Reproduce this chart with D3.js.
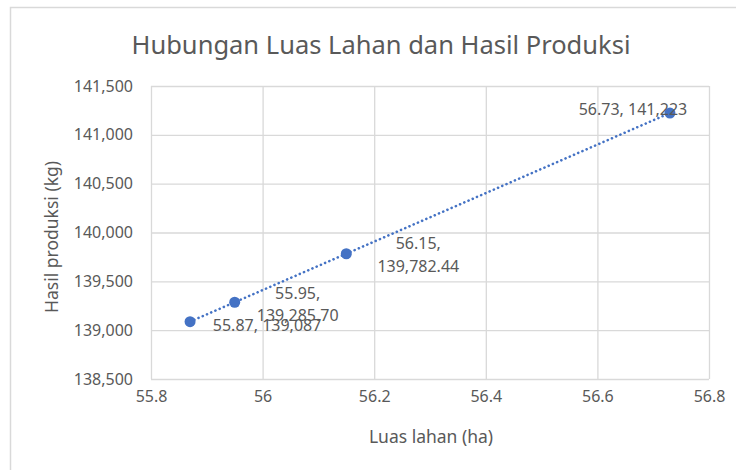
<!DOCTYPE html>
<html>
<head>
<meta charset="utf-8">
<script src="https://d3js.org/d3.v7.min.js"></script>
<style>
  body { margin: 0; background: #fff; }
  text { font-family: "Noto Sans", "Open Sans", sans-serif; fill: #595959; }
</style>
</head>
<body>
<div id="chart"></div>
<script>
// Data
const luasLahan = [55.87, 55.95, 56.15, 56.73];
const hasilProduksi = [139087, 139285.70, 139782.44, 141223];
const labelLines = [
  ["55.87, 139,087"],
  ["55.95,", "139,285.70"],
  ["56.15,", "139,782.44"],
  ["56.73, 141,223"]
];
const xTicks = [55.8, 56, 56.2, 56.4, 56.6, 56.8];
const yTicks = [138500, 139000, 139500, 140000, 140500, 141000, 141500];

// label offsets relative to each point (layout only)
const labelOffsets = [[77, 4], [63, 2], [72, 1], [-37, -4]];

const W = 736, H = 470;
const margin = {top: 86, right: 27, bottom: 91, left: 151};
const width = W - margin.left - margin.right;
const height = H - margin.top - margin.bottom;

const svg = d3.select("#chart").append("svg")
  .attr("width", W).attr("height", H);

// outer chart frame
svg.append("rect")
  .attr("x", 10.5).attr("y", 7.5)
  .attr("width", 740).attr("height", 480)
  .attr("fill", "#fff").attr("stroke", "#d9d9d9").attr("stroke-width", 1.5);

// title
svg.append("text")
  .attr("x", 381).attr("y", 54)
  .attr("text-anchor", "middle")
  .style("font-size", "25.5px")
  .text("Hubungan Luas Lahan dan Hasil Produksi");

const g = svg.append("g").attr("transform", `translate(${margin.left},${margin.top})`);

const x = d3.scaleLinear().domain([55.8, 56.8]).range([0, width]);
const y = d3.scaleLinear().domain([138500, 141500]).range([height, 0]);

// gridlines
g.append("g")
  .call(d3.axisLeft(y).tickValues(yTicks).tickSize(-width).tickFormat(""))
  .call(a => a.select(".domain").remove())
  .selectAll("line").attr("stroke", "#d9d9d9").attr("stroke-width", 1.3);

g.append("g")
  .attr("transform", `translate(0,${height})`)
  .call(d3.axisBottom(x).tickValues(xTicks).tickSize(-height).tickFormat(""))
  .call(a => a.select(".domain").remove())
  .selectAll("line").attr("stroke", "#d9d9d9").attr("stroke-width", 1.3);

// tick labels
g.append("g")
  .call(d3.axisLeft(y).tickValues(yTicks).tickSize(0).tickPadding(18).tickFormat(d3.format(",")))
  .call(a => a.select(".domain").remove())
  .selectAll("text").style("font-size", "16px").attr("fill", "#595959");

g.append("g")
  .attr("transform", `translate(0,${height})`)
  .call(d3.axisBottom(x).tickValues(xTicks).tickSize(0).tickPadding(12).tickFormat(d => String(d)))
  .call(a => a.select(".domain").remove())
  .selectAll("text").style("font-size", "16px").attr("fill", "#595959");

// axis titles
svg.append("text")
  .attr("x", 431).attr("y", 443)
  .attr("text-anchor", "middle")
  .style("font-size", "17.5px")
  .text("Luas lahan (ha)");

svg.append("text")
  .attr("transform", `translate(58,237) rotate(-90)`)
  .attr("text-anchor", "middle")
  .style("font-size", "17.5px")
  .text("Hasil produksi (kg)");

// linear trendline
const pts = luasLahan.map((v, i) => [v, hasilProduksi[i]]);
const reg = (() => {
  const mx = d3.mean(pts, p => p[0]), my = d3.mean(pts, p => p[1]);
  const b = d3.sum(pts, p => (p[0] - mx) * (p[1] - my)) / d3.sum(pts, p => (p[0] - mx) ** 2);
  return {a: my - b * mx, b};
})();
const x0 = d3.min(luasLahan), x1 = d3.max(luasLahan);
g.append("line")
  .attr("x1", x(x0)).attr("y1", y(reg.a + reg.b * x0))
  .attr("x2", x(x1)).attr("y2", y(reg.a + reg.b * x1))
  .attr("stroke", "#4472c4").attr("stroke-width", 2.6)
  .attr("stroke-dasharray", "0.1,4.5").attr("stroke-linecap", "round");

// points
g.selectAll(".pt").data(pts).enter().append("circle")
  .attr("class", "pt")
  .attr("cx", d => x(d[0])).attr("cy", d => y(d[1]))
  .attr("r", 5.5).attr("fill", "#4472c4");

// data labels
const lab = g.selectAll(".lab").data(pts).enter().append("text")
  .attr("class", "lab")
  .attr("text-anchor", "middle")
  .style("font-size", "16px")
  .attr("transform", (d, i) => `translate(${x(d[0]) + labelOffsets[i][0]},${y(d[1]) + labelOffsets[i][1]})`);

lab.each(function(d, i) {
  const lines = labelLines[i];
  const t = d3.select(this);
  lines.forEach((s, k) => {
    t.append("tspan")
      .attr("x", 0)
      .attr("dy", k === 0 ? (lines.length === 1 ? "0.35em" : "-0.35em") : "1.4em")
      .text(s);
  });
});
</script>
</body>
</html>
